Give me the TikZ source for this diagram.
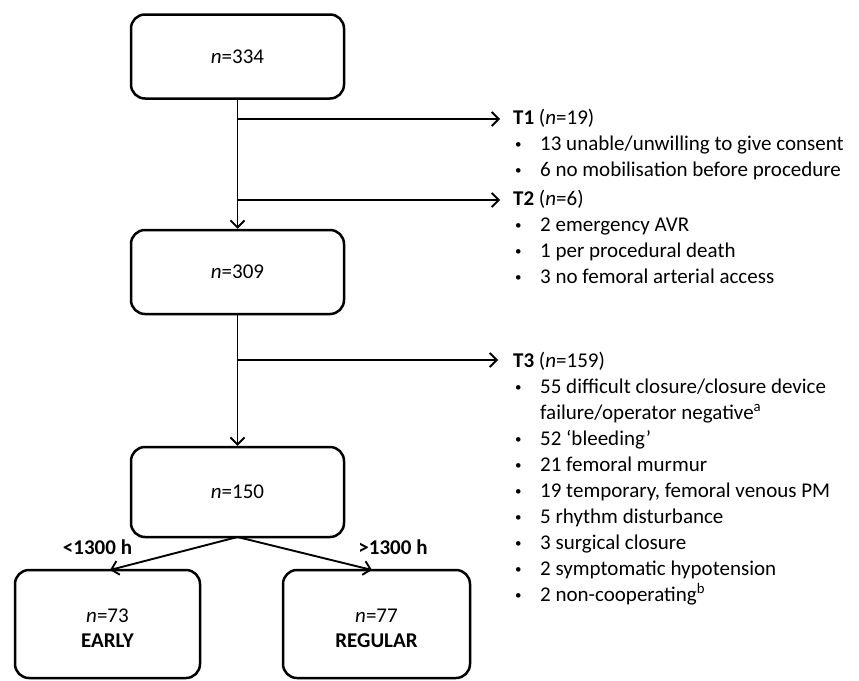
\documentclass[tikz,border=0pt]{standalone}
\usepackage{fontspec}
\setmainfont{Carlito}
\usetikzlibrary{arrows.meta}
\newcommand{\bul}{\hspace*{2pt}\makebox[25pt][l]{\raisebox{1.5pt}{\fontsize{13}{13}\selectfont\textbullet}}}
\begin{document}
\begin{tikzpicture}[x=1pt,y=-1pt,
  every node/.style={font=\fontsize{21}{26}\selectfont},
  flowbox/.style={draw, line width=2.5pt, rounded corners=14pt, minimum width=213pt, minimum height=84pt, align=center, inner sep=0pt},
  arr/.style={line width=1.9pt, -{Straight Barb[length=7pt,width=14pt,line width=1.9pt]}},
  txt/.style={anchor=base west, inner sep=0pt, align=left}
]
\useasboundingbox (0,0) rectangle (859,680);

% boxes
\node[flowbox] (b1) at (237.5,56.5) {\textit{n}=334};
\node[flowbox] (b2) at (237.5,272) {\textit{n}=309};
\node[flowbox, minimum height=90pt] (b3) at (237.5,492) {\textit{n}=150};
\node[flowbox, minimum width=185pt, minimum height=108pt] (b4) at (107.5,624) {\rule{0pt}{22pt}\textit{n}=73\\[-1pt]\textbf{EARLY}};
\node[flowbox, minimum width=187pt, minimum height=108pt] (b5) at (376.5,624) {\rule{0pt}{22pt}\textit{n}=77\\[-1pt]\textbf{REGULAR}};

% side texts
\node[txt] (t1) at (513,124) {\begin{tabular}[t]{@{}l@{}}
\textbf{T1} (\textit{n}=19)\\
\bul 13 unable/unwilling to give consent\\
\bul 6 no mobilisation before procedure
\end{tabular}};
\node[txt] (t2) at (513,205) {\begin{tabular}[t]{@{}l@{}}
\textbf{T2} (\textit{n}=6)\\
\bul 2 emergency AVR\\
\bul 1 per procedural death\\
\bul 3 no femoral arterial access
\end{tabular}};
\node[txt] (t3) at (513,367) {\begin{tabular}[t]{@{}l@{}}
\textbf{T3} (\textit{n}=159)\\
\bul 55 difficult closure/closure device\\
\hspace*{27pt}failure/operator negative\textsuperscript{a}\\
\bul 52 ‘bleeding’\\
\bul 21 femoral murmur\\
\bul 19 temporary, femoral venous PM\\
\bul 5 rhythm disturbance\\
\bul 3 surgical closure\\
\bul 2 symptomatic hypotension\\
\bul 2 non-cooperating\textsuperscript{b}
\end{tabular}};

% labels
\node[inner sep=0pt] (l1) at (97.5,547) {\textbf{<1300 h}};
\node[inner sep=0pt] (l2) at (393,547) {\textbf{>1300 h}};

% junctions
\coordinate (j1) at (237.5,119);
\coordinate (e1) at (500,119);
\coordinate (j2) at (237.5,200);
\coordinate (e2) at (500,200);
\coordinate (j3) at (237.5,360);
\coordinate (e3) at (498,360);
\coordinate (s3) at (237.5,537);
\coordinate (a4) at (110,570);
\coordinate (a5) at (372,570);

% connectors
\draw[arr] (b1.south) -- (b2.north);
\draw[arr] (j1) -- (e1);
\draw[arr] (j2) -- (e2);
\draw[arr] (b2.south) -- (b3.north);
\draw[arr] (j3) -- (e3);
\draw[arr] (s3) -- (a4);
\draw[arr] (s3) -- (a5);
\end{tikzpicture}
\end{document}
